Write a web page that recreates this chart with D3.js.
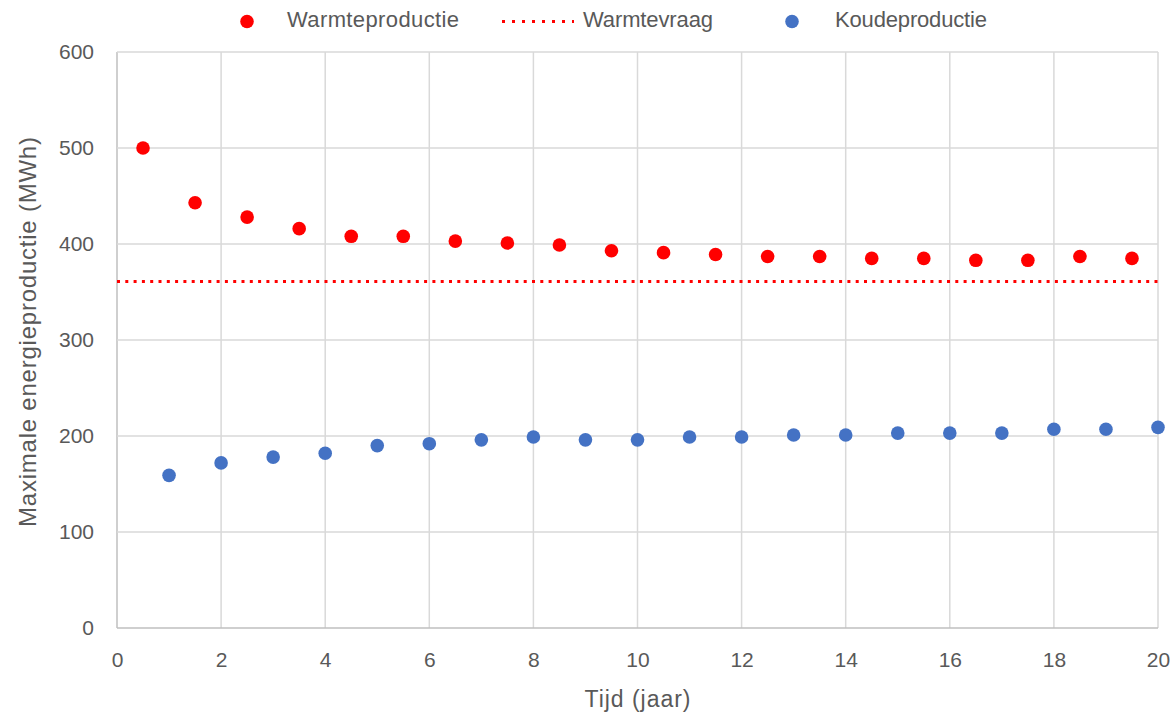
<!DOCTYPE html>
<html>
<head>
<meta charset="utf-8">
<script src="https://cdn.jsdelivr.net/npm/d3@7"></script>
<style>
  html, body { margin: 0; padding: 0; background: #fff; }
  svg { display: block; }
  text { font-family: "Liberation Sans", "DejaVu Sans", sans-serif; fill: #595959; }
</style>
</head>
<body>
<svg id="chart" width="1173" height="721"></svg>
<script>
// Warmteproductie: heat production, plotted mid-year (MWh)
const warmteJaren = [0.5, 1.5, 2.5, 3.5, 4.5, 5.5, 6.5, 7.5, 8.5, 9.5, 10.5, 11.5, 12.5, 13.5, 14.5, 15.5, 16.5, 17.5, 18.5, 19.5];
const warmteproductie = [500, 443, 428, 416, 408, 408, 403, 401, 399, 393, 391, 389, 387, 387, 385, 385, 383, 383, 387, 385];

// Koudeproductie: cold production per year (MWh)
const koudeJaren = [1, 2, 3, 4, 5, 6, 7, 8, 9, 10, 11, 12, 13, 14, 15, 16, 17, 18, 19, 20];
const koudeproductie = [159, 172, 178, 182, 190, 192, 196, 199, 196, 196, 199, 199, 201, 201, 203, 203, 203, 207, 207, 209];

// Warmtevraag: constant heat demand (MWh)
const warmtevraag = 361;

const xTicks = [0, 2, 4, 6, 8, 10, 12, 14, 16, 18, 20];
const yTicks = [0, 100, 200, 300, 400, 500, 600];

const seriesNames = ["Warmteproductie", "Warmtevraag", "Koudeproductie"];
const red = "#FF0000";
const blue = "#4472C4";

const svg = d3.select("#chart");
const margin = { left: 117, right: 15, top: 52, bottom: 93 };
const W = 1173, H = 721;

const x = d3.scaleLinear().domain([0, 20]).range([margin.left, W - margin.right]);
const y = d3.scaleLinear().domain([0, 600]).range([H - margin.bottom, margin.top]);

// gridlines
svg.append("g")
  .selectAll("line")
  .data(xTicks)
  .join("line")
  .attr("x1", d => x(d)).attr("x2", d => x(d))
  .attr("y1", y(0)).attr("y2", y(600))
  .attr("stroke", d => d === 0 ? "#bfbfbf" : "#d9d9d9")
  .attr("stroke-width", 1.5);

svg.append("g")
  .selectAll("line")
  .data(yTicks)
  .join("line")
  .attr("x1", x(0)).attr("x2", x(20))
  .attr("y1", d => y(d)).attr("y2", d => y(d))
  .attr("stroke", d => d === 0 ? "#bfbfbf" : "#d9d9d9")
  .attr("stroke-width", 1.5);

// axes (labels only, lines drawn as gridlines)
const xAxis = svg.append("g")
  .attr("transform", `translate(0,${y(0)})`)
  .call(d3.axisBottom(x).tickValues(xTicks).tickSize(0).tickPadding(24).tickFormat(d3.format("d")));
const yAxis = svg.append("g")
  .attr("transform", `translate(${x(0)},0)`)
  .call(d3.axisLeft(y).tickValues(yTicks).tickSize(0).tickPadding(23).tickFormat(d3.format("d")));
[xAxis, yAxis].forEach(a => {
  a.select(".domain").remove();
  a.selectAll("text").attr("font-size", 21).attr("fill", "#595959")
    .style("font-family", "'Liberation Sans', sans-serif");
});

// demand line
svg.append("line")
  .attr("x1", x(0)).attr("x2", x(20))
  .attr("y1", y(warmtevraag)).attr("y2", y(warmtevraag))
  .attr("stroke", red)
  .attr("stroke-width", 3)
  .attr("stroke-dasharray", "3 5.3");

// heat production points
svg.append("g")
  .selectAll("circle")
  .data(warmteJaren.map((t, i) => [t, warmteproductie[i]]))
  .join("circle")
  .attr("cx", d => x(d[0])).attr("cy", d => y(d[1]))
  .attr("r", 6.8)
  .attr("fill", red);

// cold production points
svg.append("g")
  .selectAll("circle")
  .data(koudeJaren.map((t, i) => [t, koudeproductie[i]]))
  .join("circle")
  .attr("cx", d => x(d[0])).attr("cy", d => y(d[1]))
  .attr("r", 6.8)
  .attr("fill", blue);

// axis titles
svg.append("text")
  .attr("x", (x(0) + x(20)) / 2).attr("y", 707)
  .attr("text-anchor", "middle")
  .attr("font-size", 23)
  .attr("textLength", 106).attr("lengthAdjust", "spacing")
  .text("Tijd (jaar)");

svg.append("text")
  .attr("transform", "translate(36,332) rotate(-90)")
  .attr("text-anchor", "middle")
  .attr("font-size", 24)
  .attr("textLength", 390).attr("lengthAdjust", "spacing")
  .text("Maximale energieproductie (MWh)");

// legend
const legend = svg.append("g");
const ly = 21.5;
const legendText = (xPos, label, len) => legend.append("text")
  .attr("x", xPos).attr("y", ly + 5.5)
  .attr("font-size", 22)
  .attr("textLength", len).attr("lengthAdjust", "spacing")
  .text(label);

legend.append("circle").attr("cx", 247).attr("cy", ly).attr("r", 6.8).attr("fill", red);
legendText(287, seriesNames[0], 172);
legend.append("line").attr("x1", 502).attr("x2", 574).attr("y1", ly).attr("y2", ly)
  .attr("stroke", red).attr("stroke-width", 3).attr("stroke-dasharray", "3 7");
legendText(583, seriesNames[1], 130);
legend.append("circle").attr("cx", 792).attr("cy", ly).attr("r", 6.8).attr("fill", blue);
legendText(835, seriesNames[2], 152);
</script>
</body>
</html>
